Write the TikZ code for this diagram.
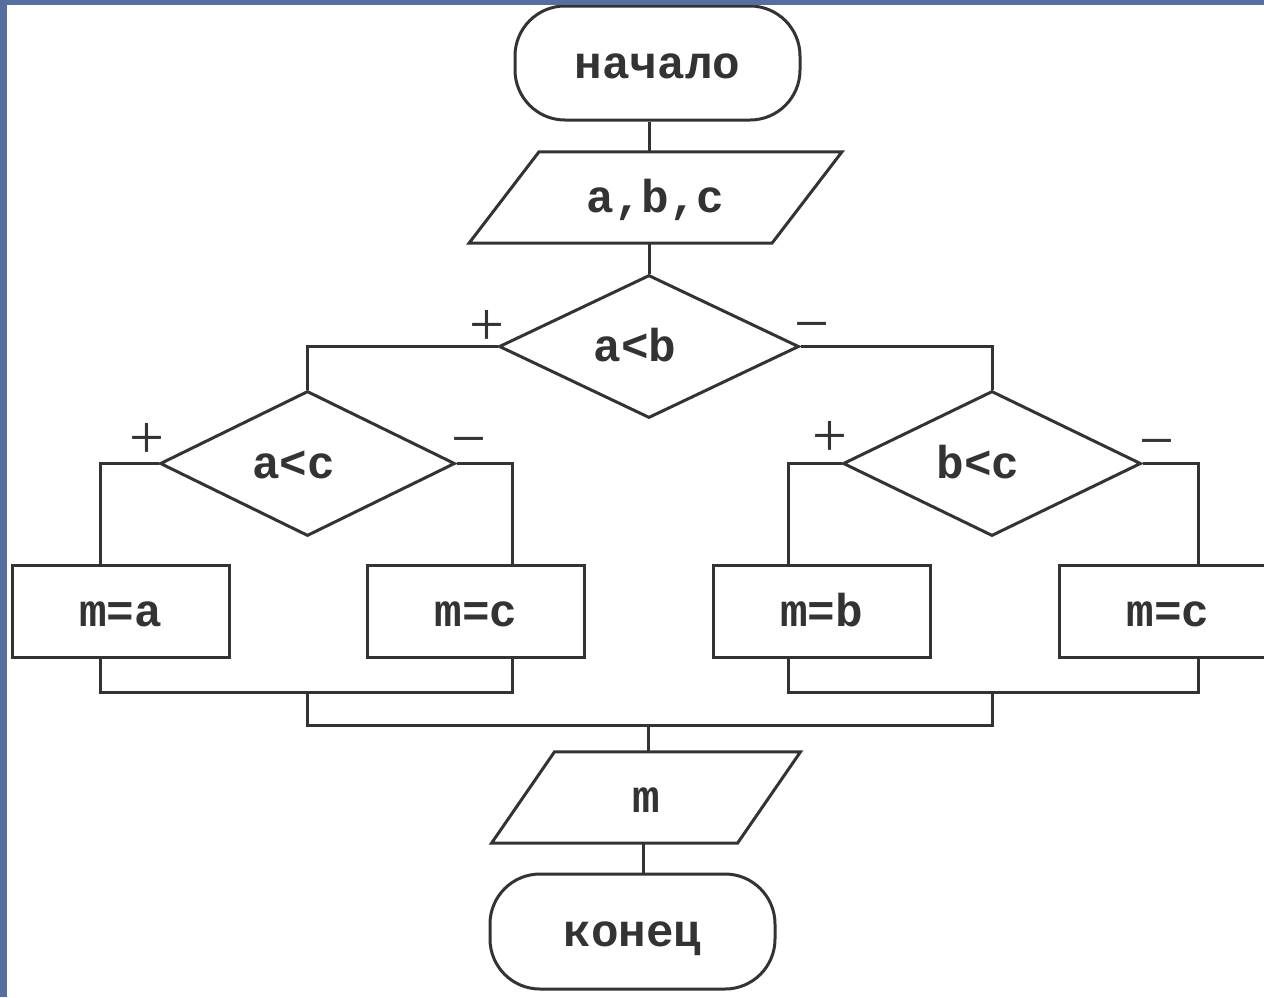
\documentclass[tikz,border=0pt]{standalone}
\usepackage{fontspec}
\setmainfont{Liberation Mono}
\newfontfamily\signfont{Liberation Serif}
\usetikzlibrary{shapes.geometric,calc}
\definecolor{frameblue}{HTML}{586E9E}
\definecolor{ink}{HTML}{333333}
\begin{document}
\begin{tikzpicture}[x=1pt,y=-1pt,
  every node/.style={font=\fontsize{46}{50}\selectfont\bfseries, text=ink, inner sep=0pt},
  txt/.style={text height=36pt, text depth=6pt},
  ln/.style={draw=ink, line width=3pt},
  term/.style={ln, txt, rectangle, rounded corners=50pt, minimum width=285pt, minimum height=114pt},
  iotext/.style={txt, rectangle, minimum height=91pt, minimum width=200pt},
  dec/.style={ln, txt, diamond, aspect=2},
  proc/.style={ln, txt, rectangle, minimum width=217pt, minimum height=92pt},
  sign/.style={font=\signfont\fontsize{62}{64}\selectfont, text=ink},
  line join=miter]
\clip (0,0) rectangle (1264,997);
\fill[white] (0,0) rectangle (1264,997);

% nodes
\node[term] (start) at (657.5,63) {начало};
\node[iotext] (in) at (655.5,197.5) {a,b,c};
\draw[ln] ($(in.south)+(-186.5,0)$) -- ($(in.south)+(116.5,0)$) -- ($(in.north)+(186.5,0)$) -- ($(in.north)+(-116.5,0)$) -- cycle;

\node[dec, minimum width=300pt, minimum height=143pt] (ab) at (649,346.5) {\hspace*{-28pt}a<b};
\node[dec, minimum width=295pt, minimum height=145pt] (ac) at (307.5,463.5) {\hspace*{-28pt}a<c};
\node[dec, minimum width=298pt, minimum height=145pt] (bc) at (992,463.5) {\hspace*{-28pt}b<c};

\node[proc] (ma)  at (120.5,611) {m=a};
\node[proc] (mc1) at (476,611) {m=c};
\node[proc] (mb)  at (821.5,611) {m=b};
\node[proc] (mc2) at (1168,611) {m=c};

\node[iotext] (out) at (646,797.5) {m};
\draw[ln] ($(out.south)+(-154.5,0)$) -- ($(out.south)+(91.5,0)$) -- ($(out.north)+(154.5,0)$) -- ($(out.north)+(-91.5,0)$) -- cycle;

\node[term, minimum height=115pt] (fin) at (632.5,931.5) {конец};

% signs
\node[sign] (p1) at (487,328) {+};
\node[sign] (n1) at (812,333) {−};
\node[sign] (p2) at (147,441) {+};
\node[sign] (n2) at (469,448) {−};
\node[sign] (p3) at (830,439) {+};
\node[sign] (n3) at (1157,450) {−};

% connectors
\draw[ln] (start.south -| ab.north) -- (in.north -| ab.north);
\draw[ln] (in.south -| ab.north) -- (ab.north);
\draw[ln] (ab.west) -| (ac.north);
\draw[ln] (ab.east) -| (bc.north);
\draw[ln] (ac.west) -| ([xshift=-20.5pt]ma.north);
\draw[ln] (ac.east) -| ([xshift=36pt]mc1.north);
\draw[ln] (bc.west) -| ([xshift=-33.5pt]mb.north);
\draw[ln] (bc.east) -| ([xshift=30pt]mc2.north);

\coordinate (jl) at (307.5,692);
\coordinate (jr) at (992,692);
\coordinate (jm) at (648,725);
\draw[ln] ([xshift=-20.5pt]ma.south) |- (jl) -| ([xshift=36pt]mc1.south);
\draw[ln] ([xshift=-33.5pt]mb.south) |- (jr) -| ([xshift=30pt]mc2.south);
\draw[ln] (jl) |- (jm) -| (jr);
\draw[ln] (jm) -- (jm |- out.north);
\draw[ln] ([xshift=-3pt]out.south) -- ([xshift=-3pt]out.south |- fin.north);

% frame
\fill[frameblue] (0,0) rectangle (7,997);
\fill[frameblue] (0,0) rectangle (1264,5);
\end{tikzpicture}
\end{document}
